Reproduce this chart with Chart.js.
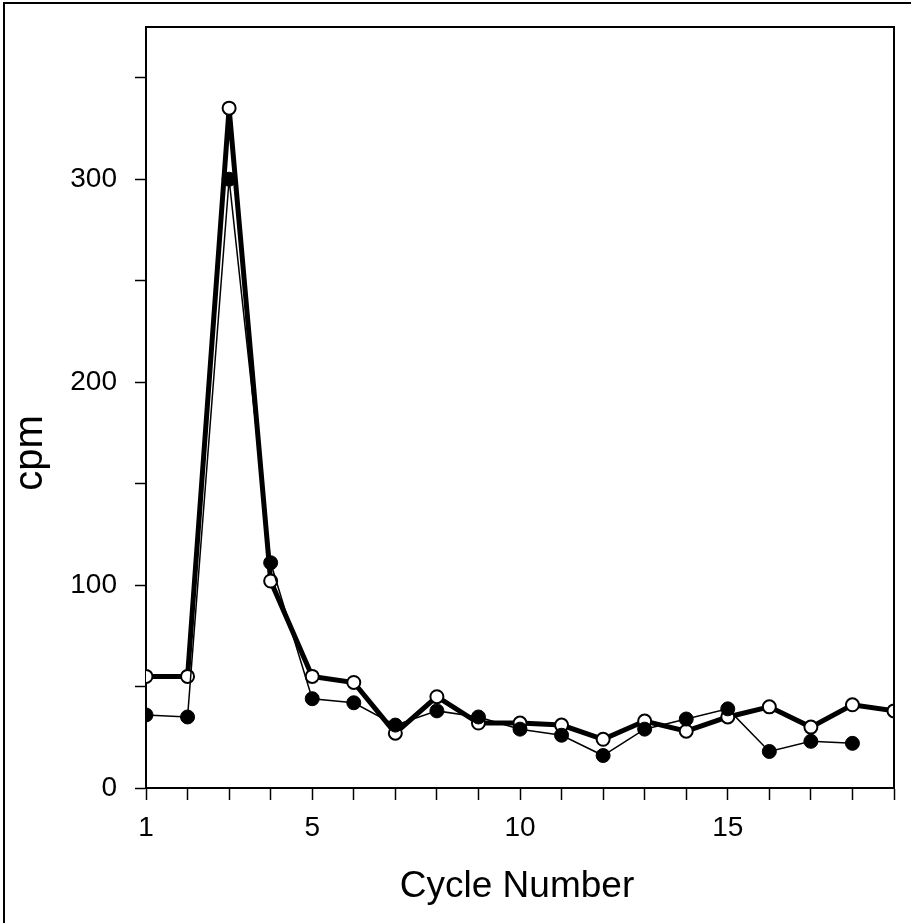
<!DOCTYPE html>
<html>
<head>
<meta charset="utf-8">
<script src="https://cdn.jsdelivr.net/npm/chart.js@4/dist/chart.umd.min.js"></script>
<style>
  body { margin: 0; background: #fff; }
  canvas { display: block; }
</style>
</head>
<body>
<canvas id="cycleChart" width="911" height="923"></canvas>
<script>
// x values
var cycles = [1, 2, 3, 4, 5, 6, 7, 8, 9, 10, 11, 12, 13, 14, 15, 16, 17, 18, 19];
// open circles (heavy line)
var openCpm = [55, 55, 335, 102, 55, 52, 27, 45, 32, 32, 31, 24, 33, 28, 35, 40, 30, 41, 38];
// filled circles (thin line), nothing at cycle 19
var filledCpm = [36, 35, 300, 111, 44, 42, 31, 38, 35, 29, 26, 16, 29, 34, 39, 18, 23, 22, null];
// labelled ticks
var xLabelTicks = [1, 5, 10, 15];
var yLabelTicks = [0, 100, 200, 300];

var FONT = '"Liberation Sans", Arial, Helvetica, sans-serif';

function toPoints(vals) {
  var pts = [];
  for (var i = 0; i < cycles.length; i++) {
    if (vals[i] !== null) pts.push({ x: cycles[i], y: vals[i] });
  }
  return pts;
}

// frame lines, outer border and axis titles
var framePlugin = {
  id: 'frame',
  afterDraw: function(chart) {
    var ctx = chart.ctx;
    var a = chart.chartArea;
    ctx.save();
    ctx.strokeStyle = '#000';
    ctx.lineWidth = 2;
    ctx.beginPath();
    ctx.moveTo(a.left, a.top);
    ctx.lineTo(a.right, a.top);
    ctx.lineTo(a.right, a.bottom);
    ctx.stroke();

    // outer border (left + top only)
    ctx.beginPath();
    ctx.moveTo(4, 923);
    ctx.lineTo(4, 3);
    ctx.lineTo(911, 3);
    ctx.stroke();

    ctx.fillStyle = '#000';
    ctx.font = '37px ' + FONT;
    ctx.textAlign = 'center';
    ctx.textBaseline = 'alphabetic';
    ctx.fillText('Cycle Number', 517, 897);

    ctx.translate(42, 453);
    ctx.rotate(-Math.PI / 2);
    ctx.font = '40px ' + FONT;
    ctx.fillText('cpm', 0, 0);
    ctx.restore();
  }
};

new Chart(document.getElementById('cycleChart'), {
  type: 'line',
  data: {
    datasets: [
      {
        label: 'filled',
        data: toPoints(filledCpm),
        borderColor: '#000',
        borderWidth: 1.5,
        backgroundColor: '#000',
        pointBackgroundColor: '#000',
        pointBorderColor: '#000',
        pointBorderWidth: 1,
        pointRadius: 7,
        tension: 0,
        order: 1
      },
      {
        label: 'open',
        data: toPoints(openCpm),
        borderColor: '#000',
        borderWidth: 5,
        pointBackgroundColor: '#fff',
        pointBorderColor: '#000',
        pointBorderWidth: 2,
        pointRadius: 6.5,
        tension: 0,
        order: 2
      }
    ]
  },
  options: {
    responsive: false,
    animation: false,
    layout: { padding: { top: 27, right: 17, left: 0, bottom: 0 } },
    plugins: {
      legend: { display: false },
      tooltip: { enabled: false }
    },
    scales: {
      x: {
        type: 'linear',
        min: 1,
        max: 19,
        afterFit: function(scale) { scale.height = 135; },
        border: { display: true, color: '#000', width: 2 },
        grid: { drawOnChartArea: false, drawTicks: true, tickLength: 12, tickColor: '#000', tickWidth: 1.5 },
        ticks: {
          stepSize: 1,
          autoSkip: false,
          maxRotation: 0,
          padding: 11,
          color: '#000',
          font: { family: FONT, size: 28 },
          callback: function(v) { return xLabelTicks.indexOf(v) >= 0 ? String(v) : ''; }
        }
      },
      y: {
        min: 0,
        max: 375,
        afterFit: function(scale) {
          scale.width = 146;
          scale.paddingTop = 0;
          scale.paddingBottom = 0;
        },
        afterBuildTicks: function(scale) {
          scale.ticks = scale.ticks.filter(function(t) { return t.value % 50 === 0; });
        },
        border: { display: true, color: '#000', width: 2 },
        grid: { drawOnChartArea: false, drawTicks: true, tickLength: 11, tickColor: '#000', tickWidth: 1.5 },
        ticks: {
          stepSize: 50,
          padding: 18,
          color: '#000',
          font: { family: FONT, size: 28 },
          callback: function(v) { return yLabelTicks.indexOf(v) >= 0 ? String(v) : ''; }
        }
      }
    }
  },
  plugins: [framePlugin]
});
</script>
</body>
</html>
